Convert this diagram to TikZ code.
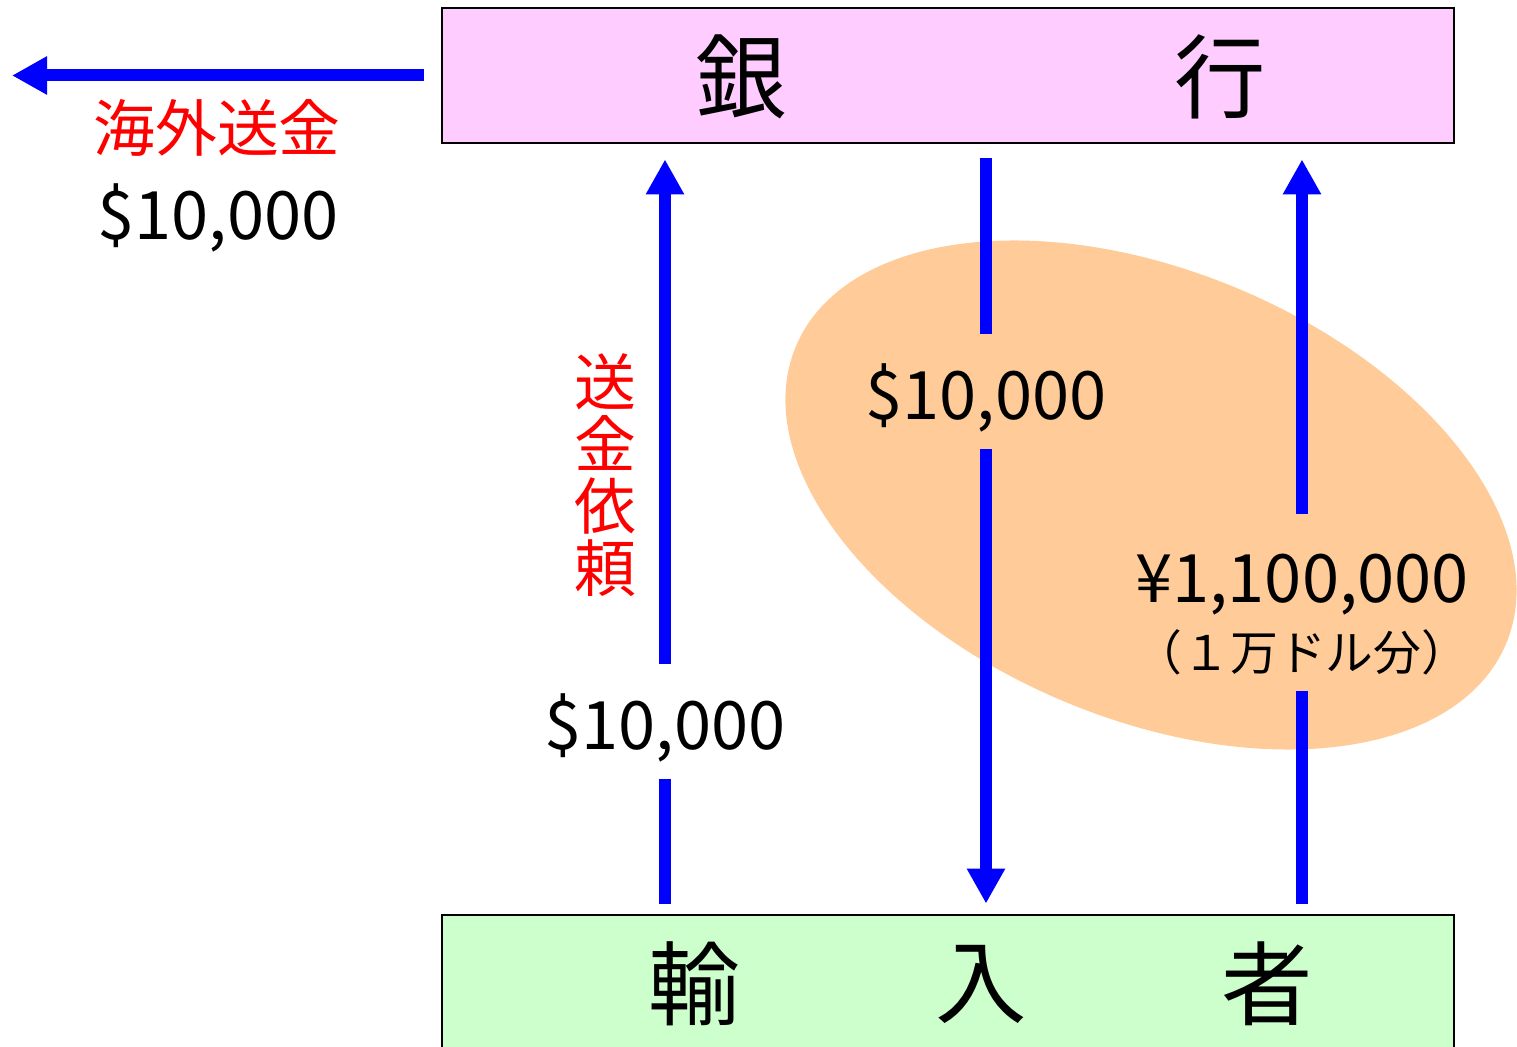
\documentclass[tikz,border=0pt]{standalone}
\usepackage{fontspec}
\setmainfont{Noto Sans CJK JP}
\usepackage{xcolor}
\usetikzlibrary{arrows.meta, positioning, shapes.geometric}

\definecolor{bankpink}{HTML}{FFCCFF}
\definecolor{buyergreen}{HTML}{CCFFCC}
\definecolor{peach}{HTML}{FFCC99}

\begin{document}
\begin{tikzpicture}[
  >={Triangle[width=0.36cm, length=0.35cm]},
  box/.style={rectangle, draw, line width=0.8pt, minimum width=10.12cm, inner sep=0pt},
  bigchar/.style={font=\fontsize{26}{26}\selectfont, inner sep=0pt},
  money/.style={font=\fontsize{19}{19.4}\selectfont, align=center, inner sep=0pt},
  gap/.style={money, text height=0.57cm, text depth=0pt},
  note/.style={font=\fontsize{17.6}{17.6}\selectfont, text=red, align=center, inner sep=0pt},
  flow/.style={draw=blue, line width=0.12cm},
]
  \useasboundingbox (0,0) rectangle (15.17,10.47);

  % exchange zone
  \node[ellipse, fill=peach, minimum width=7.7cm, minimum height=4.48cm, inner sep=0pt, rotate=-22.7] (zone) at (11.51,5.52) {};

  \node[box, fill=bankpink, minimum height=1.35cm] (bank) at (9.48,9.715) {};
  \node[box, fill=buyergreen, minimum height=1.62cm] (importer) at (9.48,0.51) {};

  \node[bigchar] (gin) at (7.41,9.70) {銀};
  \node[bigchar] (kou) at (12.20,9.70) {行};
  \node[bigchar] (yu) at (6.94,0.63) {輸};
  \node[bigchar] (nyu) at (9.81,0.63) {入};
  \node[bigchar] (sha) at (12.67,0.63) {者};

  \node[note] (overseas) at (2.17,9.19) {海外送金};
  \node[money] (sent) at (2.18,8.29) {\$10,000};
  \node[note] (request) at (6.05,5.72) {送\\金\\依\\頼};

  \node[gap, minimum height=1.13cm] (usdin) at (6.65,3.255) {\$10,000};
  \node[gap, minimum height=1.13cm] (usdout) at (9.86,6.555) {\$10,000};

  % yen payment: gap in the arrow and its two lines
  \node[minimum height=1.75cm, inner sep=0pt] (yen) at (13.02,4.445) {};
  \node[money] (yenamt) at (13.02,4.625) {¥1,100,000};
  \node[font=\fontsize{13.6}{13.6}\selectfont, inner sep=0pt] (yennote) at (13.02,3.95) {（１万ドル分）};

  \coordinate (abroad) at (0.12,9.71);

  \draw[flow, ->, shorten <=0.17cm] (bank.west) -- (abroad |- bank.west);

  \draw[flow, shorten <=0.10cm] (importer.north -| usdin) -- (usdin.south);
  \draw[flow, ->, shorten >=0.15cm] (usdin.north) -- (bank.south -| usdin);

  \draw[flow, shorten <=0.14cm] (bank.south -| usdout) -- (usdout.north);
  \draw[flow, ->, shorten >=0.10cm] (usdout.south) -- (importer.north -| usdout);

  \draw[flow, shorten <=0.10cm] (importer.north -| yen) -- (yen.south);
  \draw[flow, ->, shorten >=0.15cm] (yen.north) -- (bank.south -| yen);
\end{tikzpicture}
\end{document}
